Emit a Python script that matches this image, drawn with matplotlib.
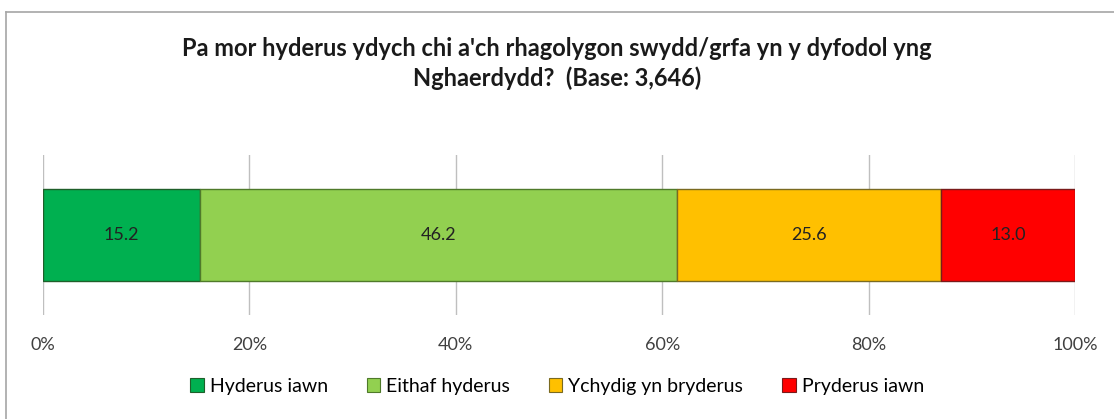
import matplotlib.pyplot as plt
from matplotlib.lines import Line2D

plt.rcParams['font.family'] = ['Lato', 'DejaVu Sans']

categories = ["Hyderus iawn", "Eithaf hyderus", "Ychydig yn bryderus", "Pryderus iawn"]
values = [15.2, 46.2, 25.6, 13.0]
colors = ["#00B050", "#92D050", "#FFC000", "#FF0000"]
edges = ["#1f5f2a", "#4f7a2a", "#7a6a20", "#7a1a1a"]
ticks = [0, 20, 40, 60, 80, 100]
tick_labels = ["0%", "20%", "40%", "60%", "80%", "100%"]
title = "Pa mor hyderus ydych chi a'ch rhagolygon swydd/grfa yn y dyfodol yng\nNghaerdydd?  (Base: 3,646)"

fig = plt.figure(figsize=(11.14, 4.19), dpi=100)
ax = fig.add_axes([0.0386, 0.248, 0.9264, 0.382])

left = 0
for cat, v, c, e in zip(categories, values, colors, edges):
    ax.barh(0, v, left=left, height=0.58, color=c, edgecolor=e, linewidth=1, label=cat, zorder=3)
    ax.text(left + v / 2, 0, f"{v:.1f}", ha="center", va="center", fontsize=13, color="#222222", zorder=4)
    left += v

ax.set_xlim(0, 100)
ax.set_ylim(-0.5, 0.5)
ax.set_xticks(ticks)
ax.set_xticklabels(tick_labels, fontsize=13, color="#404040")
ax.set_yticks([])
ax.tick_params(axis="x", length=0, pad=16)
ax.grid(axis="x", color="#BFBFBF", linewidth=1, zorder=0)
for s in ax.spines.values():
    s.set_visible(False)

fig.text(0.5, 0.848, title, ha="center", va="center", fontsize=17, fontweight="bold",
         color="#1a1a1a", linespacing=1.35)

handles = [plt.Rectangle((0, 0), 1, 1, facecolor=c, edgecolor=e, linewidth=0.8) for c, e in zip(colors, edges)]
fig.legend(handles, categories, loc="center", bbox_to_anchor=(0.5, 0.078), ncol=4, frameon=False,
           fontsize=14, handlelength=0.7, handleheight=0.7, handletextpad=0.3, columnspacing=2.0)

# chart border (top and left edge visible)
fig.add_artist(Line2D([6 / 1114, 1], [1 - 12 / 419, 1 - 12 / 419], transform=fig.transFigure, color="#A6A6A6", linewidth=1.2))
fig.add_artist(Line2D([6 / 1114, 6 / 1114], [0, 1 - 12 / 419], transform=fig.transFigure, color="#A6A6A6", linewidth=1.2))

fig.savefig("out.png", dpi=100)
